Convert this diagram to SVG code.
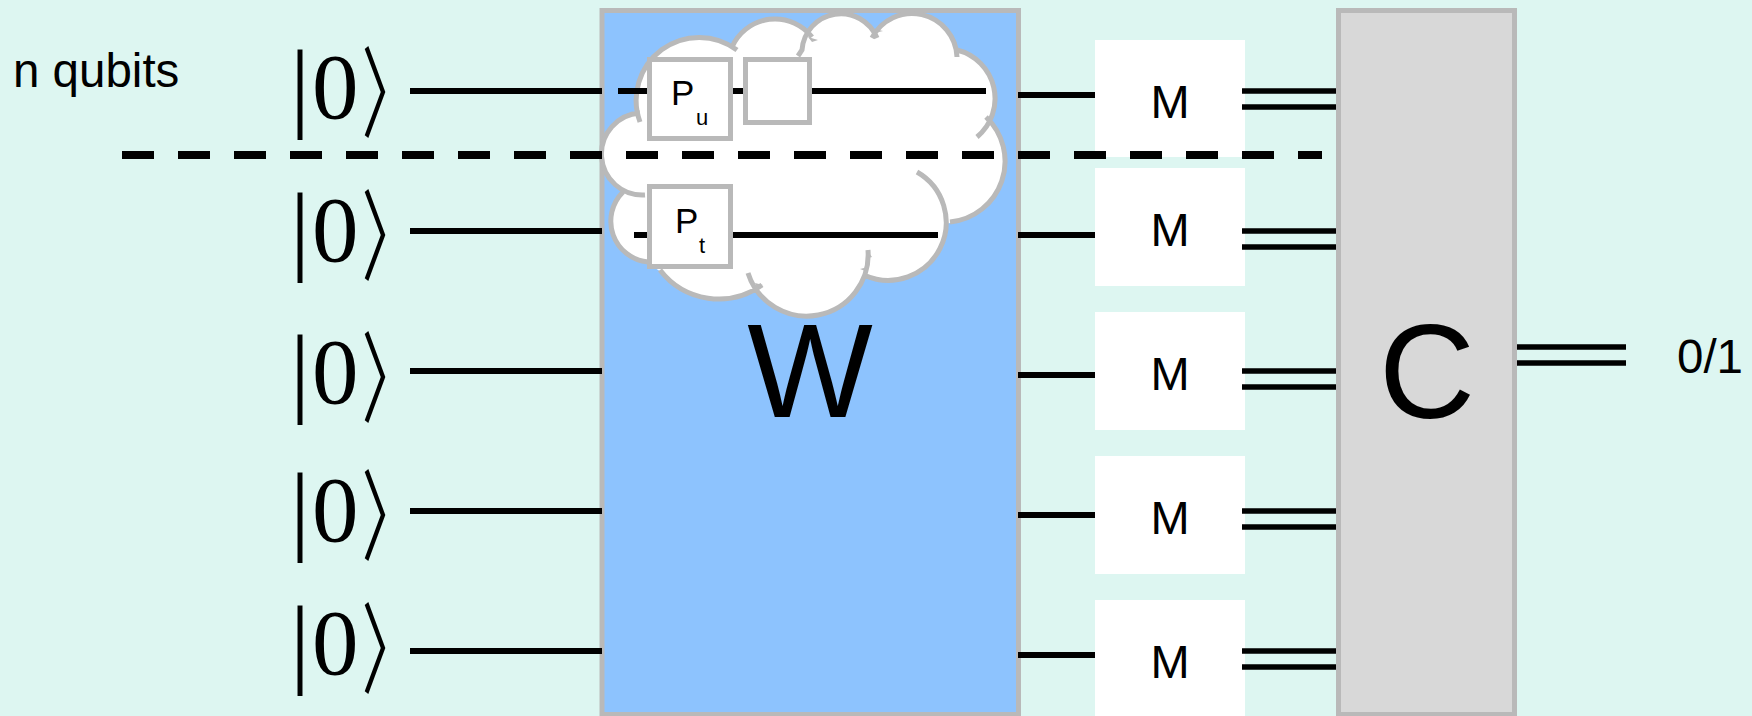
<svg xmlns="http://www.w3.org/2000/svg" width="1752" height="716" viewBox="0 0 1752 716">
<style>
.box{stroke:#b9b9b9;stroke-width:5}
.w{stroke:#000;stroke-width:6;fill:none}
.d{stroke:#000;stroke-width:5.5;fill:none}
.m{fill:#fff}
text{font-family:"Liberation Sans",Arial,sans-serif;fill:#000}
.t47{font-size:47.5px}
.mt{font-size:47px;text-anchor:middle}
.p{font-size:35px}
.s{font-size:22px}
.big{font-size:133px;text-anchor:middle}
.ket{font-family:"Liberation Serif",serif;font-size:93px}
.bar{font-family:"Liberation Serif",serif;font-size:100px}
.ang{font-family:"Noto Sans CJK JP",sans-serif;font-size:104px}
</style>
<defs>
<path id="cloud" d="M640 122A63 63 0 0 1 737 50M732 47A47 47 0 0 1 812 37M798 56L802 50A39 39 0 0 1 877 38M872 38A45 45 0 0 1 957 57M957 50A50 50 0 0 1 977 137M986 117A61 61 0 0 1 950 222M917 172A58 58 0 0 1 865 275.500M868 250A61.500 61.500 0 0 1 748 273M762 285A74 74 0 0 1 660 270M648 262A41 41 0 0 1 623 192M645 195A41 41 0 0 1 640 113"/>
<g id="ketg"><text class="bar" x="290" y="119">|</text><text class="ket" x="312" y="118">0</text><text class="ang" transform="translate(361.800 129.600) scale(.55 .95)">〉</text></g>
</defs>
<rect width="1752" height="716" fill="#ddf6f1"/>
<g id="W"><rect class="box" x="602" y="10.500" width="416.500" height="704" fill="#8dc3fe"/><text class="big" x="810" y="417">W</text></g>
<g id="C"><rect class="box" x="1338.500" y="10.500" width="176" height="704" fill="#d8d8d8"/><text class="big" x="1427" y="418">C</text></g>
<g id="M1"><rect class="m" x="1095" y="40" width="150" height="117"/><text class="mt" x="1170" y="118">M</text></g>
<g id="M2"><rect class="m" x="1095" y="168" width="150" height="118"/><text class="mt" x="1170" y="246">M</text></g>
<g id="M3"><rect class="m" x="1095" y="312" width="150" height="118"/><text class="mt" x="1170" y="390">M</text></g>
<g id="M4"><rect class="m" x="1095" y="456" width="150" height="118"/><text class="mt" x="1170" y="534">M</text></g>
<g id="M5"><rect class="m" x="1095" y="600" width="150" height="116"/><text class="mt" x="1170" y="678">M</text></g>
<g id="cloud-node">
<polygon fill="#fff" stroke="#fff" stroke-width="2" points="640,113 732,47 812,37 877,38 957,50 986,117 950,222 925,225 868,274 762,285 660,270 648,262 623,192"/>
<use href="#cloud" fill="#fff"/>
<use href="#cloud" fill="none" stroke="#b9b9b9" stroke-width="5"/>
<path fill="#b9b9b9" d="M808 37L818 40L812 42ZM870 28L883 31L875 33ZM755 283L763 285L757 288ZM867 250L872 257L868 258ZM860 269L868 267L868 272Z"/>
</g>
<g id="connectors">
<path class="w" d="M410 91H602M410 231H602M410 371H602M410 511H602M410 651H602"/>
<path class="w" d="M618 91H986M634 235H938"/>
<path class="w" d="M1018 95H1095M1018 235H1095M1018 375H1095M1018 515H1095M1018 655H1095"/>
<path class="d" d="M1242 91H1336M1242 107H1336M1242 231H1336M1242 247H1336M1242 371H1336M1242 387H1336M1242 511H1336M1242 527H1336M1242 651H1336M1242 667H1336"/>
<path class="d" d="M1517 347H1626M1517 363H1626"/>
<path d="M122 155H1322" fill="none" stroke="#000" stroke-width="8" stroke-dasharray="32 24"/>
</g>
<g id="Pu"><rect class="box" x="649.500" y="59.500" width="81" height="79" fill="#fff"/><text class="p" x="671" y="105">P</text><text class="s" x="696" y="125">u</text></g>
<g id="blank"><rect class="box" x="745.500" y="59.500" width="64" height="63" fill="#fff"/></g>
<g id="Pt"><rect class="box" x="649.500" y="186.500" width="81" height="80" fill="#fff"/><text class="p" x="675" y="233">P</text><text class="s" x="699" y="253">t</text></g>
<g id="labels">
<text class="t47" x="13" y="87">n qubits</text>
<text class="t47" x="1677" y="373">0/1</text>
</g>
<g id="ket1"><use href="#ketg"/></g>
<g id="ket2"><use href="#ketg" y="143"/></g>
<g id="ket3"><use href="#ketg" y="285"/></g>
<g id="ket4"><use href="#ketg" y="423"/></g>
<g id="ket5"><use href="#ketg" y="556"/></g>
</svg>
